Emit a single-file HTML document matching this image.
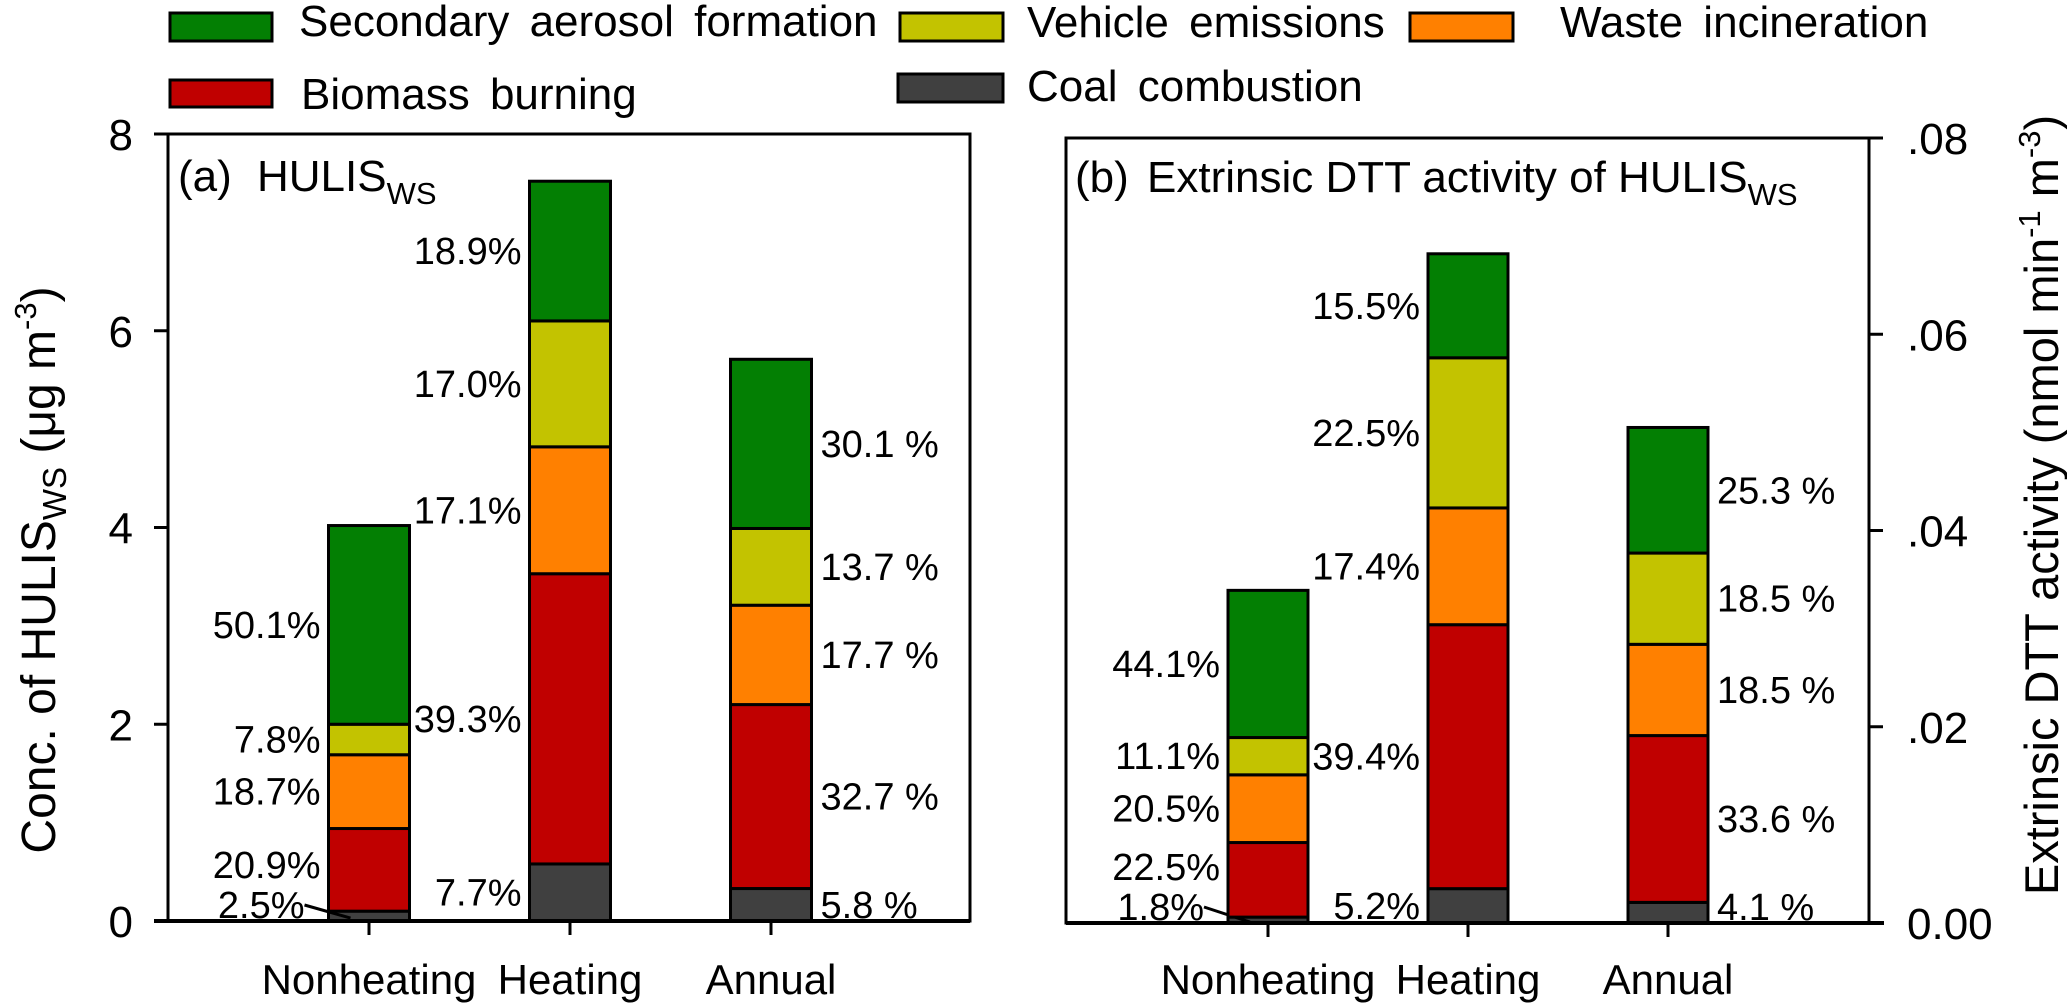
<!DOCTYPE html>
<html><head><meta charset="utf-8"><style>
html,body{margin:0;padding:0;background:#fff;}
svg{display:block;font-family:"Liberation Sans",Arial,sans-serif;}
</style></head><body>
<svg id="chart" width="2067" height="1003" viewBox="0 0 2067 1003" xmlns="http://www.w3.org/2000/svg">
<g id="legend" word-spacing="8">
  <g><rect x="170" y="13" width="102" height="28" fill="#037F03" stroke="#000" stroke-width="3"/><text x="299" y="36" font-size="44">Secondary aerosol formation</text></g>
  <g><rect x="170" y="80" width="102" height="27" fill="#C00000" stroke="#000" stroke-width="3"/><text x="301" y="109" font-size="44">Biomass burning</text></g>
  <g><rect x="900" y="13" width="103" height="28" fill="#C3C300" stroke="#000" stroke-width="3"/><text x="1027" y="37" font-size="44">Vehicle emissions</text></g>
  <g><rect x="1410" y="13" width="103" height="28" fill="#FF8000" stroke="#000" stroke-width="3"/><text x="1560" y="37" font-size="44">Waste incineration</text></g>
  <g><rect x="898" y="74" width="105" height="28" fill="#404040" stroke="#000" stroke-width="3"/><text x="1027" y="101" font-size="44">Coal combustion</text></g>
</g>
<g id="panelA"></g>
<g id="panelB"></g>
<text transform="translate(55,570) rotate(-90)" text-anchor="middle" font-size="48">Conc. of HULIS<tspan font-size="33" dy="11">WS</tspan><tspan dy="-11"> (μg m</tspan><tspan font-size="31" dy="-19">-3</tspan><tspan dy="19">)</tspan></text>
<text transform="translate(2058,505) rotate(-90)" text-anchor="middle" font-size="47">Extrinsic DTT activity (nmol min<tspan font-size="31" dy="-18">-1</tspan><tspan dy="18"> m</tspan><tspan font-size="31" dy="-18">-3</tspan><tspan dy="18">)</tspan></text>
<text x="178" y="191" font-size="44">(a)<tspan x="257">HULIS</tspan><tspan font-size="31" dy="13">WS</tspan></text>
<text x="1075" y="192" font-size="44">(b)<tspan x="1147">Extrinsic DTT activity of HULIS</tspan><tspan font-size="31" dy="13">WS</tspan></text>
</svg>
<script>
const categories = ['Nonheating', 'Heating', 'Annual'];
const sourceNames = ['coal', 'biomass', 'waste', 'vehicle', 'secondary'];
const sourceColors = ['#404040', '#C00000', '#FF8000', '#C3C300', '#037F03'];
// Panel (a) HULIS_WS concentration (ug/m3)
const hulisCoal = [0.10, 0.58, 0.33];
const hulisBiomass = [0.84, 2.95, 1.87];
const hulisWaste = [0.75, 1.29, 1.01];
const hulisVehicle = [0.31, 1.28, 0.78];
const hulisSecondary = [2.02, 1.42, 1.72];
const hulisPct = [
  ['2.5%', '20.9%', '18.7%', '7.8%', '50.1%'],
  ['7.7%', '39.3%', '17.1%', '17.0%', '18.9%'],
  ['5.8 %', '32.7 %', '17.7 %', '13.7 %', '30.1 %']
];
const hulisTicks = [0, 2, 4, 6, 8];
const hulisTickLabels = ['0', '2', '4', '6', '8'];
// Panel (b) extrinsic DTT activity (nmol/min/m3)
const dttCoal = [0.0006, 0.0035, 0.0021];
const dttBiomass = [0.0076, 0.0269, 0.0170];
const dttWaste = [0.0069, 0.0119, 0.0093];
const dttVehicle = [0.0038, 0.0153, 0.0093];
const dttSecondary = [0.0150, 0.0106, 0.0128];
const dttPct = [
  ['1.8%', '22.5%', '20.5%', '11.1%', '44.1%'],
  ['5.2%', '39.4%', '17.4%', '22.5%', '15.5%'],
  ['4.1 %', '33.6 %', '18.5 %', '18.5 %', '25.3 %']
];
const dttTicks = [0, 0.02, 0.04, 0.06, 0.08];
const dttTickLabels = ['0.00', '.02', '.04', '.06', '.08'];

const NS = 'http://www.w3.org/2000/svg';
function mk(parent, tag, attrs, text) {
  const e = document.createElementNS(NS, tag);
  for (const k in attrs) e.setAttribute(k, attrs[k]);
  if (text !== undefined) e.textContent = text;
  parent.appendChild(e);
  return e;
}

function drawPanel(g, cfg) {
  const y = v => cfg.y0 - v / cfg.vmax * (cfg.y0 - cfg.yTop);
  const xc = i => cfg.xs[0] + i * (cfg.xs[1] - cfg.xs[0]);
  const frame = mk(g, 'rect', {x: cfg.left, y: cfg.yTop, width: cfg.right - cfg.left, height: cfg.y0 - cfg.yTop, fill: 'none', stroke: '#000', 'stroke-width': 3});
  
  
  const series = cfg.series;
  categories.forEach((cat, i) => {
    let cum = 0;
    let prevLy = Infinity;
    const x = xc(i) - cfg.bw / 2;
    series.forEach((arr, s) => {
      const v = arr[i];
      const yt = y(cum + v), yb = y(cum);
      const r = mk(g, 'rect', {x: x, y: yt, width: cfg.bw, height: yb - yt, fill: sourceColors[s], stroke: '#000', 'stroke-width': 3});
      
      
      let ly = (yt + yb) / 2;
      const lbl = cfg.pct[i][s];
      let tx, anchor;
      if (i === 2) { tx = x + cfg.bw + 9; anchor = 'start'; }
      else { tx = x - 8; anchor = 'end'; }
      let leader = false;
      if (ly > cfg.y0 - 16) { ly = cfg.y0 - 16; if (i === 0) { leader = true; tx = x - 24; } }
      if (ly > prevLy - 40) ly = prevLy - 40;
      prevLy = ly;
      const t = mk(g, 'text', {x: tx, y: ly + 13, 'text-anchor': anchor, 'font-size': 38}, lbl);
      
      
      if (leader) {
        const ln = mk(g, 'line', {x1: tx, y1: ly, x2: x + 22, y2: (yt + yb) / 2 + 2, stroke: '#000', 'stroke-width': 3});
        
        
      }
      cum += v;
    });
    const tk = mk(g, 'line', {x1: xc(i), y1: cfg.y0, x2: xc(i), y2: cfg.y0 + 14, stroke: '#000', 'stroke-width': 3});
    
    
    const ct = mk(g, 'text', {x: xc(i), y: 994, 'text-anchor': 'middle', 'font-size': 42}, cat);
    
    
  });
  const bl = mk(g, 'line', {x1: cfg.blx1, y1: cfg.y0, x2: cfg.blx2, y2: cfg.y0, stroke: '#000', 'stroke-width': 4});
  
  
  cfg.ticks.forEach((tv, k) => {
    const yy = y(tv);
    const x1 = cfg.axisX, x2 = cfg.axisX + cfg.tickDir * 14;
    const tl = mk(g, 'line', {x1: x1, y1: yy, x2: x2, y2: yy, stroke: '#000', 'stroke-width': 3});
    
    
    const tt = mk(g, 'text', {x: cfg.tickLabelX, y: yy + 16, 'text-anchor': cfg.tickAnchor, 'font-size': 44}, cfg.tickLabels[k]);
    
    
  });
}

drawPanel(document.getElementById('panelA'), {
  id: 'panel-a', left: 168, right: 970, yTop: 134, y0: 921, vmax: 8,
  xs: [369, 570], bw: 81,
  series: [hulisCoal, hulisBiomass, hulisWaste, hulisVehicle, hulisSecondary],
  pct: hulisPct, ticks: hulisTicks, tickLabels: hulisTickLabels,
  axisX: 168, tickDir: -1, tickLabelX: 133, tickAnchor: 'end', blx1: 154, blx2: 970
});
drawPanel(document.getElementById('panelB'), {
  id: 'panel-b', left: 1066, right: 1869, yTop: 138, y0: 923, vmax: 0.08,
  xs: [1268, 1468], bw: 80,
  series: [dttCoal, dttBiomass, dttWaste, dttVehicle, dttSecondary],
  pct: dttPct, ticks: dttTicks, tickLabels: dttTickLabels,
  axisX: 1869, tickDir: 1, tickLabelX: 1907, tickAnchor: 'start', blx1: 1066, blx2: 1884
});
</script>
</body></html>
